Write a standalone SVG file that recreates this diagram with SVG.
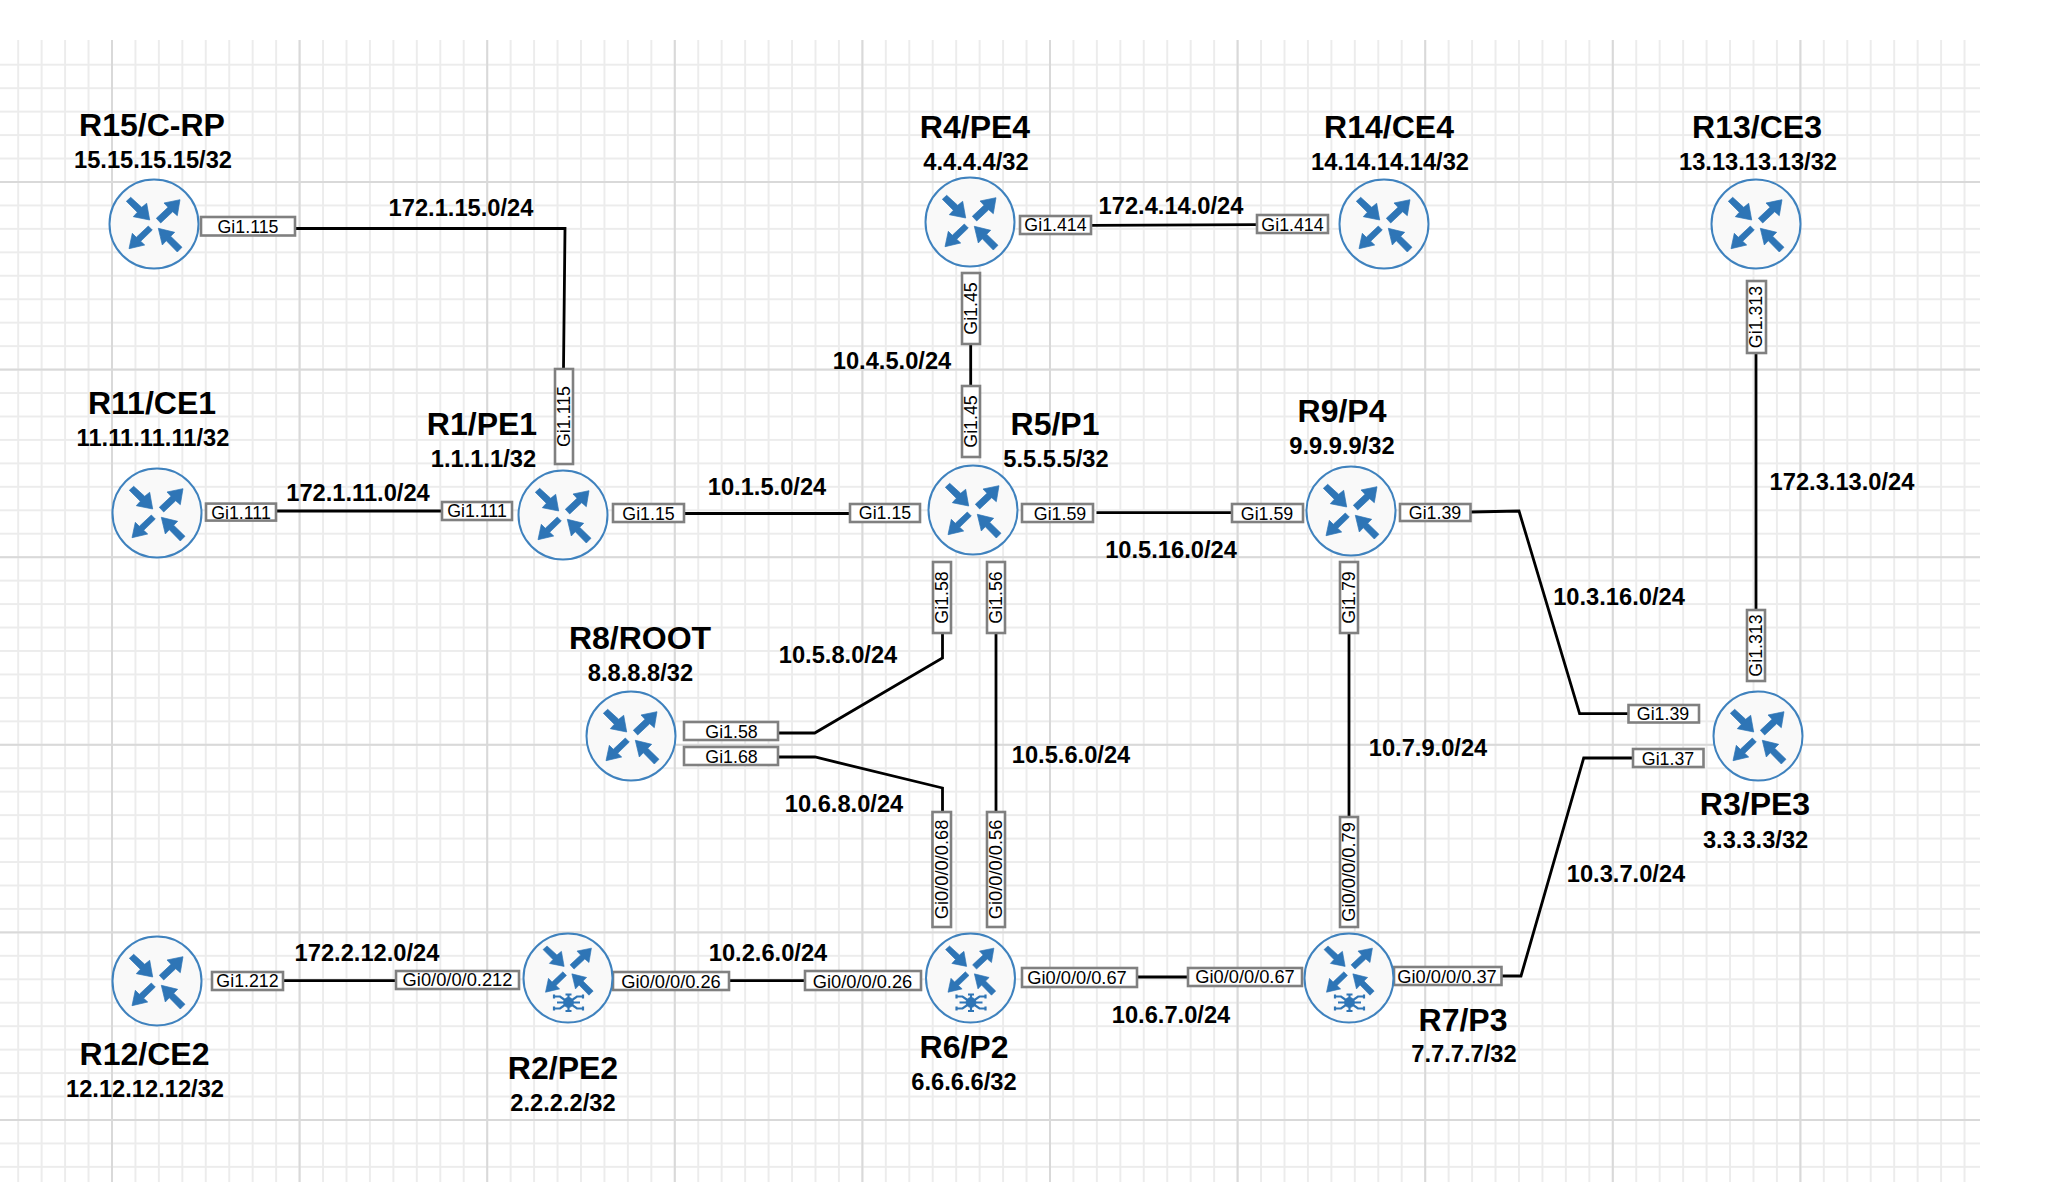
<svg xmlns="http://www.w3.org/2000/svg" width="2048" height="1182" viewBox="0 0 2048 1182">
<style>
text{font-family:"Liberation Sans",Arial,sans-serif;fill:#000;text-anchor:middle}
.t{font-size:32px;font-weight:700}
.a,.n{font-size:23.7px;font-weight:700}
.i{font-size:17.8px}
.j{font-size:18.3px}
.b{fill:#fff;stroke:#808080;stroke-width:2.6}
.c{fill:none;stroke:#000;stroke-width:2.8;stroke-linejoin:miter}
.ic{fill:#2e75b6;stroke:#2e75b6;stroke-width:.7}
.ring{fill:#f9f9f9;stroke:#3f82be;stroke-width:2}
.st{fill:none;stroke:#2e75b6;stroke-width:2.2}
</style>
<defs>
<pattern id="mv" patternUnits="userSpaceOnUse" x="17.2" y="0" width="23.45" height="20"><rect width="2" height="20" fill="#ececec"/></pattern>
<pattern id="mh" patternUnits="userSpaceOnUse" x="0" y="40.3" width="20" height="23.45"><rect width="20" height="2" fill="#ececec"/></pattern>
<pattern id="Mv" patternUnits="userSpaceOnUse" x="111" y="0" width="187.6" height="20"><rect width="2" height="20" fill="#d9d9d9"/></pattern>
<pattern id="Mh" patternUnits="userSpaceOnUse" x="0" y="181" width="20" height="187.6"><rect width="20" height="2" fill="#d9d9d9"/></pattern>
<g id="arrows">
<polygon class="ic" points="-4.3,-4 -20.7,-7.3 -16.7,-11.7 -27.7,-22.7 -23.3,-26.7 -12.3,-16.7 -7.3,-20.7"/>
<polygon class="ic" points="26,-24.3 10,-21 14,-16.7 2.3,-5.7 6.7,-1 18.7,-12.3 23.3,-8.3"/>
<polygon class="ic" points="-25,24.7 -21.7,9.3 -17.7,13.3 -5.7,2 -1.7,6 -13.3,17.3 -9.3,21"/>
<polygon class="ic" points="4.3,4.3 20.7,8.3 16.7,12.3 28,23.3 23.3,28 12.3,16.7 8.3,21"/>
</g>
<g id="router"><ellipse class="ring" rx="44.5" ry="44.5"/><use href="#arrows"/></g>
<g id="mrouter"><ellipse class="ring" rx="44.5" ry="44.5"/><use href="#arrows" transform="translate(0 -8) scale(.9)"/>
<circle class="ic" cx=".5" cy="24.5" r="5"/><path class="st" d="M.5,24.5L-8,18.5H-14M.5,24.5L-8,30.5H-14M.5,24.5L9,18.5H15M.5,24.5L9,30.5H15M.5,24.5H-11M.5,24.5H12M.5,16V33M-2.5,16.5H3.5M-2.5,33H3.5M-14,16.5V20.5M-14,28.5V32.5M15,16.5V20.5M15,28.5V32.5"/></g>
</defs>
<rect width="2048" height="1182" fill="#fff"/>
<g id="grid">
<rect x="0" y="40" width="1966" height="1142" fill="url(#mv)"/>
<rect x="0" y="55" width="1980" height="1127" fill="url(#mh)"/>
<rect x="0" y="40" width="1966" height="1142" fill="url(#Mv)"/>
<rect x="0" y="55" width="1980" height="1127" fill="url(#Mh)"/>
</g>
<g id="connectors">
<path class="c" d="M295,228.5H565L563.5,369"/>
<path class="c" d="M276,511H442"/>
<path class="c" d="M684,513.5H850"/>
<path class="c" d="M1091,225.3L1257,224.7"/>
<path class="c" d="M970.7,344V386"/>
<path class="c" d="M1096.5,512.7H1232"/>
<path class="c" d="M1470.5,512L1519,511L1579.6,713.6H1628.5"/>
<path class="c" d="M1633,758H1583.7L1521,976H1501.5"/>
<path class="c" d="M1756,353V610"/>
<path class="c" d="M942.5,633V658L814.7,733H778"/>
<path class="c" d="M778,757H815L942.5,788V812"/>
<path class="c" d="M996,633V812"/>
<path class="c" d="M1349,633V817"/>
<path class="c" d="M283,980.7H396"/>
<path class="c" d="M729,980.7H805"/>
<path class="c" d="M1137,977H1188"/>
</g>
<g id="interfaces">
<rect class="b" x="201" y="217" width="94" height="18.5"/><text class="i" x="248" y="232.5">Gi1.115</text>
<rect class="b" x="555" y="369" width="18" height="95"/><text class="i" transform="translate(570 416.5) rotate(-90)">Gi1.115</text>
<rect class="b" x="206" y="503.6" width="70" height="17"/><text class="i" x="241" y="518.5">Gi1.111</text>
<rect class="b" x="442" y="502" width="70" height="18"/><text class="i" x="477" y="517">Gi1.111</text>
<rect class="b" x="613" y="504" width="71" height="18"/><text class="i" x="648.5" y="519.5">Gi1.15</text>
<rect class="b" x="1020" y="216" width="71" height="18"/><text class="i" x="1055.5" y="231">Gi1.414</text>
<rect class="b" x="1257" y="215" width="71" height="18"/><text class="i" x="1292.5" y="230.5">Gi1.414</text>
<rect class="b" x="962" y="273" width="18" height="71"/><text class="i" transform="translate(977 308.5) rotate(-90)">Gi1.45</text>
<rect class="b" x="962" y="386" width="18" height="71"/><text class="i" transform="translate(977 421.5) rotate(-90)">Gi1.45</text>
<rect class="b" x="850" y="504" width="70" height="18"/><text class="i" x="885" y="519">Gi1.15</text>
<rect class="b" x="1022" y="504" width="71" height="18"/><text class="i" x="1060" y="519.5">Gi1.59</text>
<rect class="b" x="1232" y="504" width="71" height="18"/><text class="i" x="1267" y="519.5">Gi1.59</text>
<rect class="b" x="1400" y="504" width="70.5" height="17"/><text class="i" x="1435" y="518.5">Gi1.39</text>
<rect class="b" x="933" y="562" width="18" height="71"/><text class="i" transform="translate(948 597.5) rotate(-90)">Gi1.58</text>
<rect class="b" x="987" y="562" width="18" height="71"/><text class="i" transform="translate(1002 597.5) rotate(-90)">Gi1.56</text>
<rect class="b" x="684" y="722" width="94" height="18"/><text class="i" x="731.5" y="738">Gi1.58</text>
<rect class="b" x="684" y="747" width="94" height="18"/><text class="i" x="731.5" y="763">Gi1.68</text>
<rect class="b" x="932.5" y="812" width="18.5" height="115"/><text class="j" transform="translate(947.5 869.5) rotate(-90)">Gi0/0/0/0.68</text>
<rect class="b" x="987" y="812" width="18" height="115"/><text class="j" transform="translate(1002 869.5) rotate(-90)">Gi0/0/0/0.56</text>
<rect class="b" x="613" y="972" width="116" height="18"/><text class="j" x="671" y="987.5">Gi0/0/0/0.26</text>
<rect class="b" x="805" y="971" width="116" height="19"/><text class="j" x="862.5" y="987.5">Gi0/0/0/0.26</text>
<rect class="b" x="1022" y="968" width="115" height="19"/><text class="j" x="1077" y="983.5">Gi0/0/0/0.67</text>
<rect class="b" x="1340" y="562" width="18" height="71"/><text class="i" transform="translate(1355 597.5) rotate(-90)">Gi1.79</text>
<rect class="b" x="1340" y="817" width="18" height="110"/><text class="j" transform="translate(1355 872) rotate(-90)">Gi0/0/0/0.79</text>
<rect class="b" x="1188" y="968" width="114" height="18"/><text class="j" x="1245" y="983">Gi0/0/0/0.67</text>
<rect class="b" x="1394" y="967" width="107.5" height="18"/><text class="j" x="1447" y="982.5">Gi0/0/0/0.37</text>
<rect class="b" x="1628.5" y="705" width="70.5" height="17.5"/><text class="i" x="1663" y="720">Gi1.39</text>
<rect class="b" x="1633" y="749" width="70.5" height="18"/><text class="i" x="1668" y="765">Gi1.37</text>
<rect class="b" x="1747" y="610" width="18" height="71"/><text class="i" transform="translate(1762 645.5) rotate(-90)">Gi1.313</text>
<rect class="b" x="1747" y="281" width="19" height="72"/><text class="i" transform="translate(1762 317) rotate(-90)">Gi1.313</text>
<rect class="b" x="212" y="972" width="71" height="18"/><text class="i" x="247.5" y="987">Gi1.212</text>
<rect class="b" x="396" y="971" width="123" height="18"/><text class="j" x="457.5" y="986">Gi0/0/0/0.212</text>
</g>
<g id="subnets">
<text class="n" x="461" y="216">172.1.15.0/24</text>
<text class="n" x="358" y="501">172.1.11.0/24</text>
<text class="n" x="767" y="495">10.1.5.0/24</text>
<text class="n" x="1171" y="214">172.4.14.0/24</text>
<text class="n" x="892" y="369">10.4.5.0/24</text>
<text class="n" x="1171" y="558">10.5.16.0/24</text>
<text class="n" x="1842" y="490">172.3.13.0/24</text>
<text class="n" x="838" y="663">10.5.8.0/24</text>
<text class="n" x="844" y="812">10.6.8.0/24</text>
<text class="n" x="1071" y="763">10.5.6.0/24</text>
<text class="n" x="768" y="961">10.2.6.0/24</text>
<text class="n" x="1171" y="1022.5">10.6.7.0/24</text>
<text class="n" x="1428" y="756">10.7.9.0/24</text>
<text class="n" x="1619" y="604.6">10.3.16.0/24</text>
<text class="n" x="1626" y="882">10.3.7.0/24</text>
<text class="n" x="367" y="961">172.2.12.0/24</text>
</g>
<g id="R15"><use href="#router" x="154" y="224"/><text class="t" x="152" y="135.5">R15/C-RP</text><text class="a" x="153" y="168.4">15.15.15.15/32</text></g>
<g id="R11"><use href="#router" x="157" y="513"/><text class="t" x="152" y="414">R11/CE1</text><text class="a" x="153" y="446">11.11.11.11/32</text></g>
<g id="R1"><use href="#router" x="563" y="515"/><text class="t" x="482" y="435">R1/PE1</text><text class="a" x="483.5" y="467">1.1.1.1/32</text></g>
<g id="R4"><use href="#router" x="970" y="222"/><text class="t" x="975" y="138">R4/PE4</text><text class="a" x="976" y="170">4.4.4.4/32</text></g>
<g id="R14"><use href="#router" x="1384" y="224"/><text class="t" x="1389" y="138">R14/CE4</text><text class="a" x="1390" y="170">14.14.14.14/32</text></g>
<g id="R13"><use href="#router" x="1756" y="224"/><text class="t" x="1757" y="138">R13/CE3</text><text class="a" x="1758" y="170">13.13.13.13/32</text></g>
<g id="R5"><use href="#router" x="973" y="510"/><text class="t" x="1055" y="435">R5/P1</text><text class="a" x="1056" y="467">5.5.5.5/32</text></g>
<g id="R9"><use href="#router" x="1351" y="511"/><text class="t" x="1342" y="422">R9/P4</text><text class="a" x="1342" y="454">9.9.9.9/32</text></g>
<g id="R8"><use href="#router" x="631" y="736"/><text class="t" x="640" y="649">R8/ROOT</text><text class="a" x="640.5" y="681">8.8.8.8/32</text></g>
<g id="R3"><use href="#router" x="1758" y="736"/><text class="t" x="1755" y="815">R3/PE3</text><text class="a" x="1755.6" y="847.5">3.3.3.3/32</text></g>
<g id="R12"><use href="#router" x="157" y="981"/><text class="t" x="144.5" y="1065">R12/CE2</text><text class="a" x="145" y="1097">12.12.12.12/32</text></g>
<g id="R2"><use href="#mrouter" x="568" y="978"/><text class="t" x="563" y="1079">R2/PE2</text><text class="a" x="563" y="1110.7">2.2.2.2/32</text></g>
<g id="R6"><use href="#mrouter" x="970.5" y="978"/><text class="t" x="964" y="1057.5">R6/P2</text><text class="a" x="964" y="1090">6.6.6.6/32</text></g>
<g id="R7"><use href="#mrouter" x="1349" y="978"/><text class="t" x="1463" y="1031">R7/P3</text><text class="a" x="1464" y="1062">7.7.7.7/32</text></g>
</svg>
